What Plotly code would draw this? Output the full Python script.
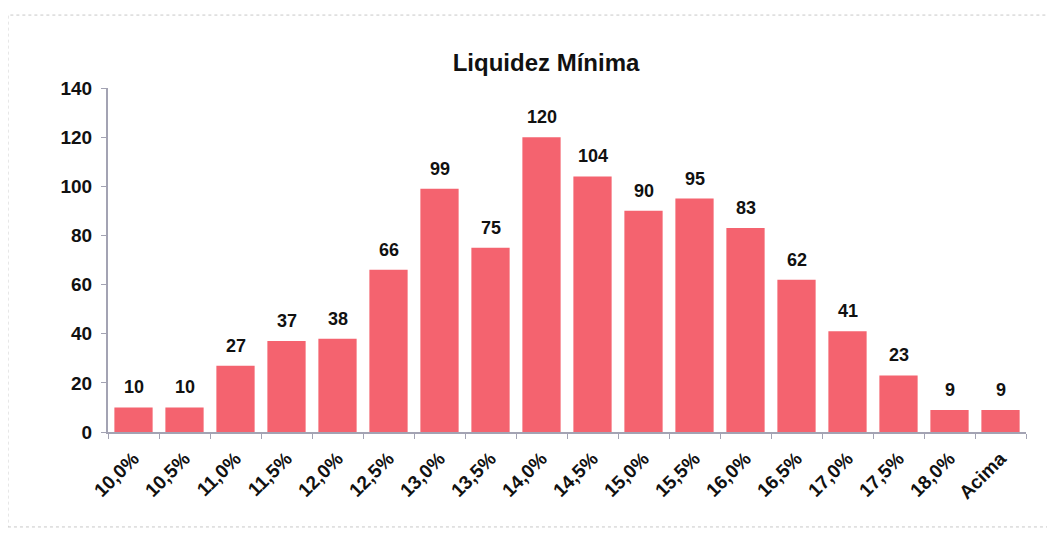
import plotly.graph_objects as go

categories = ["10,0%", "10,5%", "11,0%", "11,5%", "12,0%", "12,5%", "13,0%", "13,5%",
              "14,0%", "14,5%", "15,0%", "15,5%", "16,0%", "16,5%", "17,0%", "17,5%",
              "18,0%", "Acima"]
values = [10, 10, 27, 37, 38, 66, 99, 75, 120, 104, 90, 95, 83, 62, 41, 23, 9, 9]
y_ticks = [0, 20, 40, 60, 80, 100, 120, 140]

font_family = "Liberation Sans, Arial, sans-serif"
tick_font = dict(family=font_family, size=19, color="#111111", weight="bold")

fig = go.Figure(go.Bar(
    x=categories, y=values,
    marker=dict(color="#F4636F", line=dict(width=0)),
    cliponaxis=False,
))

for c, v in zip(categories, values):
    fig.add_annotation(x=c, y=v, text=str(v), showarrow=False,
                       yanchor="bottom", yshift=8,
                       font=dict(family=font_family, size=18, color="#111111", weight="bold"))

fig.update_layout(
    width=1055, height=544,
    margin=dict(l=100, r=37, t=80, b=120),
    paper_bgcolor="white", plot_bgcolor="white",
    title=dict(text="Liquidez Mínima", x=0.51, xanchor="center",
               y=0.9, yanchor="middle",
               font=dict(family=font_family, size=24, color="#111111", weight="bold")),
    bargap=0.25,
    showlegend=False,
    xaxis=dict(
        tickangle=-45,
        tickfont=tick_font,
        showline=True, linecolor="#A3A3B3", linewidth=2,
        ticks="outside", ticklen=5, tickcolor="#A3A3B3",
        tickson="boundaries", ticklabelstandoff=6,
        showgrid=False, automargin=False,
    ),
    yaxis=dict(
        range=[0, 140], tickvals=y_ticks,
        tickfont=tick_font,
        showline=True, linecolor="#A3A3B3", linewidth=2,
        ticks="outside", ticklen=5, tickcolor="#A3A3B3",
        ticklabelstandoff=5,
        showgrid=False, zeroline=False, automargin=False,
    ),
    shapes=[dict(type="rect", xref="paper", yref="paper",
                 x0=-0.109, x1=1.04, y0=-0.276, y1=1.212,
                 line=dict(color="#C8C8C8", width=1, dash="dot"))],
)

fig.write_html("out.html")
